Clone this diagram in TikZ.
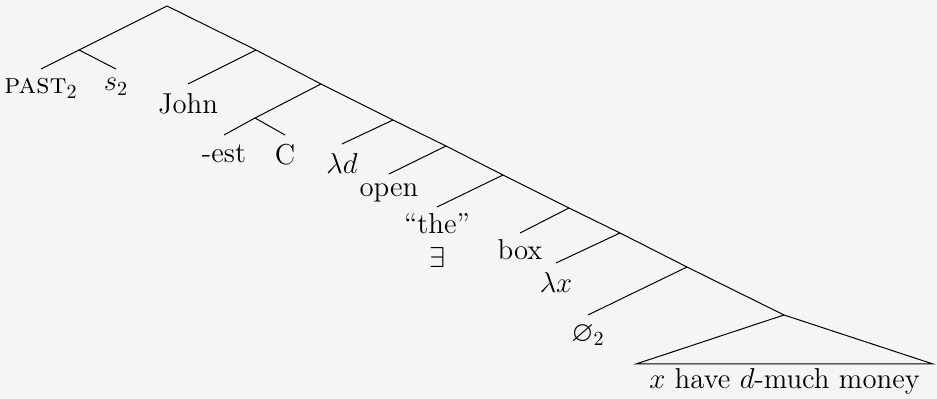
\documentclass[tikz,border=0pt]{standalone}
\usepackage{fontspec}
\usepackage{amssymb}
\definecolor{sfondo}{HTML}{F5F5F5}
\begin{document}
\begin{tikzpicture}[x=0.5pt,y=-0.5pt,
		ramo/.style={black, line width=0.5pt},
		foglia/.style={anchor=north, inner sep=4.5pt, align=center,
			font=\Large},
		]
		% ── Sfondo e riquadro ──
		\fill[sfondo] (0,0) rectangle (937,399);
		\useasboundingbox (0,0) rectangle (937,399);
		% ── Nodi interni: spina dorsale ──
		\coordinate (r)  at (167,6);
		\coordinate (a1) at (256,50);
		\coordinate (a2) at (321,84);
		\coordinate (a3) at (393,120);
		\coordinate (a4) at (446,146);
		\coordinate (a5) at (503,175);
		\coordinate (a6) at (569,208);
		\coordinate (a7) at (620,233);
		\coordinate (a8) at (687,267);
		\coordinate (a9) at (784,315);
		\coordinate (b)  at (79,50);
		\coordinate (c)  at (255,118);
		\coordinate (tl) at (636,364);
		\coordinate (tr) at (933,364);
		% ── Foglie ──
		\node[foglia] (past) at (41,69)  {\textsc{past}$_2$};
		\node[foglia] (s)    at (116,69) {$s_2$};
		\node[foglia] (john) at (188,84) {John};
		\node[foglia] (est)  at (224,135) {-est};
		\node[foglia] (cc)   at (285,135) {C};
		\node[foglia] (ld)   at (342,144) {$\lambda d$};
		\node[foglia] (open) at (389,174) {open};
		\node[foglia, inner sep=3pt] (the) at (437,207) {``the''\\[-1pt]$\exists$};
		\node[foglia, inner sep=3pt] (box) at (520,233) {box};
		\node[foglia] (lx)   at (556,263) {$\lambda x$};
		\node[foglia] (nul)  at (588,315) {$\varnothing_2$};
		\node[foglia, inner sep=2pt] (money) at (784.5,364) {$x$ have $d$-much money};
		% ── Rami ──
		\draw[ramo] (r) -- (a1) -- (a2) -- (a3) -- (a4) -- (a5) -- (a6) -- (a7) -- (a8) -- (a9);
		\draw[ramo] (r) -- (b);
		\draw[ramo] (a2) -- (c);
		\foreach \p/\f in {b/past, b/s, a1/john, c/est, c/cc, a3/ld, a4/open, a5/the, a6/box, a7/lx, a8/nul}
			\draw[ramo] (\p) -- (\f.north);
		% ── Triangolo ──
		\draw[ramo] (a9) -- (tl) -- (tr) -- cycle;
	\end{tikzpicture}
\end{document}
